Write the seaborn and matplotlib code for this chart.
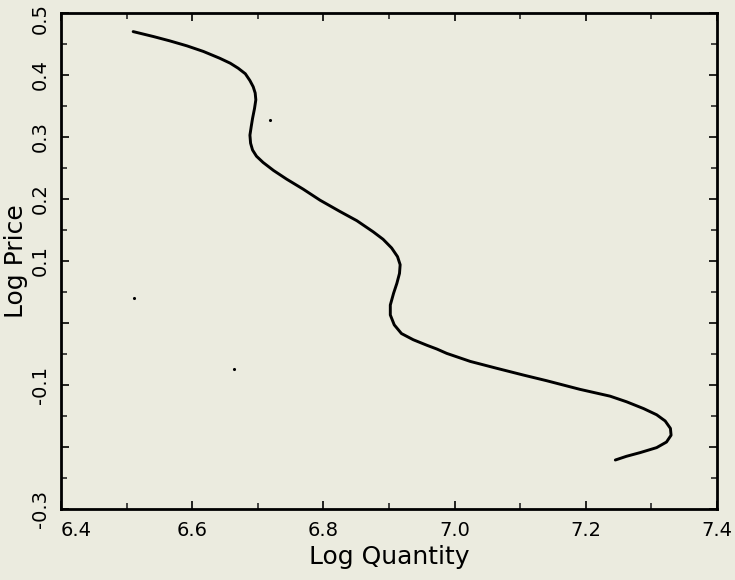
import matplotlib
matplotlib.use("Agg")
import matplotlib.pyplot as plt
import matplotlib.transforms as mtransforms
import seaborn as sns
import pandas as pd
import numpy as np

# Curve (Log Quantity, Log Price)
log_quantity = [6.510, 6.541, 6.566, 6.592, 6.617, 6.642, 6.658, 6.670, 6.681, 6.688,
                6.693, 6.696, 6.697, 6.695, 6.692, 6.690, 6.688, 6.689, 6.692, 6.698,
                6.708, 6.724, 6.744, 6.769, 6.795, 6.825, 6.851, 6.876, 6.891, 6.904,
                6.913, 6.917, 6.916, 6.912, 6.907, 6.902, 6.902, 6.908, 6.919, 6.937,
                6.958, 6.973, 6.988, 7.024, 7.064, 7.105, 7.140, 7.191, 7.237, 7.262,
                7.288, 7.308, 7.321, 7.329, 7.330, 7.323, 7.308, 7.283, 7.262, 7.245]
log_price = [0.470, 0.462, 0.455, 0.447, 0.438, 0.427, 0.419, 0.411, 0.402, 0.391,
             0.381, 0.371, 0.360, 0.346, 0.330, 0.317, 0.303, 0.290, 0.279, 0.269,
             0.259, 0.246, 0.232, 0.216, 0.198, 0.180, 0.165, 0.147, 0.135, 0.121,
             0.107, 0.094, 0.080, 0.064, 0.048, 0.029, 0.013, -0.003, -0.017, -0.027,
             -0.036, -0.042, -0.049, -0.062, -0.073, -0.084, -0.093, -0.107, -0.118, -0.127,
             -0.138, -0.148, -0.158, -0.170, -0.181, -0.192, -0.201, -0.209, -0.215, -0.221]

# small specks visible in the scan
speck_x = [6.718, 6.512, 6.664]
speck_y = [0.327, 0.041, -0.074]

x_ticks = [6.4, 6.6, 6.8, 7.0, 7.2, 7.4]
x_tick_labels = ["6.4", "6.6", "6.8", "7.0", "7.2", "7.4"]
y_ticks = [0.5, 0.4, 0.3, 0.2, 0.1, 0.0, -0.1, -0.2, -0.3]
y_tick_labels = ["0.5", "0.4", "0.3", "0.2", "0.1", "", "-0.1", "", "-0.3"]

bg = "#ebebdf"
sns.set_style("ticks")
plt.rcParams["font.family"] = ["DejaVu Sans"]

fig = plt.figure(figsize=(7.35, 5.8), dpi=100, facecolor=bg)
ax = fig.add_axes([61/735, 1-509/580, (717-61)/735, (509-13)/580])
ax.set_facecolor(bg)

df = pd.DataFrame({"q": log_quantity, "p": log_price})
sns.lineplot(data=df, x="q", y="p", sort=False, estimator=None, color="black",
             linewidth=2.1, ax=ax)
for ln in ax.get_lines():
    ln.set_solid_joinstyle("round")
    ln.set_solid_capstyle("round")
ax.scatter(speck_x, speck_y, s=5, color="black", linewidths=0)

ax.set_xlim(6.4, 7.4)
ax.set_ylim(-0.3, 0.5)
ax.set_xticks(x_ticks)
ax.set_xticklabels(x_tick_labels, fontsize=14)
ax.get_xticklabels()[0].set_horizontalalignment("left")
ax.set_xticks(np.arange(6.5, 7.4, 0.2), minor=True)
ax.set_yticks(y_ticks)
ax.set_yticklabels(y_tick_labels, fontsize=14, rotation=90, va="center")
ax.set_yticks(np.arange(-0.25, 0.5, 0.1), minor=True)

ax.tick_params(which="major", direction="in", length=6, width=1.2, top=True, right=True,
               colors="black")
ax.tick_params(axis="x", which="major", pad=9)
ax.tick_params(axis="y", which="major", pad=8)
ax.tick_params(which="minor", direction="in", length=4, width=1.2, top=True, right=True)
for s in ax.spines.values():
    s.set_linewidth(2)
    s.set_color("black")
    s.set_visible(True)

# nudge the topmost y label down a little so it stays inside the figure
top_lab = ax.get_yticklabels()[0]
top_lab.set_transform(top_lab.get_transform() +
                      mtransforms.ScaledTranslation(0, -4/72, fig.dpi_scale_trans))

ax.set_xlabel("Log Quantity", fontsize=18, labelpad=3, color="black")
ax.set_ylabel("Log Price", fontsize=18, labelpad=2, color="black")

fig.savefig("out.png", dpi=100, facecolor=bg)
